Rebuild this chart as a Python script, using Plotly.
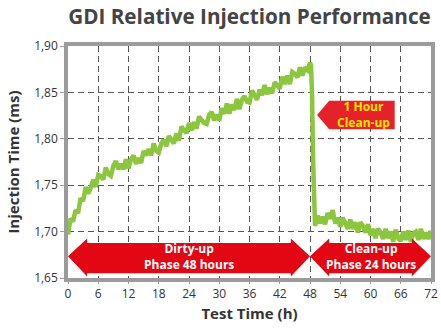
import plotly.graph_objects as go

# ---- data ----
hours = [0.0, 0.5, 1.0, 1.5, 2.0, 2.5, 3.0, 3.5, 4.0, 4.5, 5.0, 5.5, 6.0, 6.5, 7.0, 7.5, 8.0, 8.5, 9.0, 9.5,
         10.0, 10.5, 11.0, 11.5, 12.0, 12.5, 13.0, 13.5, 14.0, 14.5, 15.0, 15.5, 16.0, 16.5, 17.0, 17.5,
         18.0, 18.5, 19.0, 19.5, 20.0, 20.5, 21.0, 21.5, 22.0, 22.5, 23.0, 23.5, 24.0, 24.5, 25.0, 25.5,
         26.0, 26.5, 27.0, 27.5, 28.0, 28.5, 29.0, 29.5, 30.0, 30.5, 31.0, 31.5, 32.0, 32.5, 33.0, 33.5,
         34.0, 34.5, 35.0, 35.5, 36.0, 36.5, 37.0, 37.5, 38.0, 38.5, 39.0, 39.5, 40.0, 40.5, 41.0, 41.5,
         42.0, 42.5, 43.0, 43.5, 44.0, 44.5, 45.0, 45.5, 46.0, 46.5, 47.0, 47.5, 48.0, 48.2, 48.4, 48.6,
         48.8, 49.0, 49.5, 50.0, 50.5, 51.0, 51.5, 52.0, 52.5, 53.0, 53.5, 54.0, 54.5, 55.0, 55.5, 56.0,
         56.5, 57.0, 57.5, 58.0, 58.5, 59.0, 59.5, 60.0, 60.5, 61.0, 61.5, 62.0, 62.5, 63.0, 63.5, 64.0,
         64.5, 65.0, 65.5, 66.0, 66.5, 67.0, 67.5, 68.0, 68.5, 69.0, 69.5, 70.0, 70.5, 71.0, 71.5, 72.0]
injection_ms = [1.697, 1.714, 1.711, 1.723, 1.720, 1.736, 1.733, 1.748, 1.741, 1.747, 1.756, 1.748, 1.761, 1.760,
                1.756, 1.769, 1.762, 1.760, 1.771, 1.776, 1.767, 1.773, 1.767, 1.778, 1.768, 1.778, 1.782, 1.773,
                1.779, 1.774, 1.787, 1.782, 1.789, 1.782, 1.795, 1.787, 1.785, 1.795, 1.799, 1.792, 1.803, 1.798,
                1.795, 1.806, 1.798, 1.813, 1.809, 1.806, 1.817, 1.809, 1.818, 1.811, 1.824, 1.821, 1.817, 1.816,
                1.826, 1.829, 1.820, 1.826, 1.820, 1.833, 1.827, 1.838, 1.827, 1.837, 1.831, 1.843, 1.832, 1.842,
                1.846, 1.840, 1.839, 1.852, 1.848, 1.842, 1.853, 1.847, 1.858, 1.848, 1.855, 1.849, 1.861, 1.857,
                1.854, 1.867, 1.859, 1.868, 1.859, 1.872, 1.870, 1.866, 1.877, 1.868, 1.877, 1.874, 1.882, 1.879,
                1.850, 1.780, 1.712,
                1.706, 1.717, 1.709, 1.716, 1.708, 1.720, 1.714, 1.723, 1.709, 1.715, 1.705, 1.715, 1.708, 1.703,
                1.713, 1.703, 1.710, 1.699, 1.710, 1.706, 1.699, 1.708, 1.696, 1.703, 1.693, 1.703, 1.699, 1.692,
                1.703, 1.693, 1.700, 1.689, 1.702, 1.693, 1.690, 1.700, 1.691, 1.701, 1.689, 1.698, 1.700, 1.691,
                1.703, 1.692, 1.699, 1.692, 1.701]

x_ticks = [0, 6, 12, 18, 24, 30, 36, 42, 48, 54, 60, 66, 72]
y_ticks = [1.65, 1.70, 1.75, 1.80, 1.85, 1.90]
phase_bounds = [0, 48, 72]
phase_labels = ["<b>Dirty-up</b><br><b>Phase 48 hours</b>", "<b>Clean-up</b><br><b>Phase 24 hours</b>"]
callout_text = "<b>1 Hour</b><br><b>Clean-up</b>"

# ---- style ----
GREEN = "#8CC63F"
RED = "#E30613"
CALLOUT_RED = "#E52229"
GRID = "#555555"
FRAME = "#9B9B9B"
FONT = "Open Sans"

fig = go.Figure()
fig.add_trace(go.Scatter(x=hours, y=injection_ms, mode="lines",
                         line=dict(color=GREEN, width=4.5), showlegend=False, hoverinfo="skip"))

# phase arrows
head_len = 3.8
y_mid, body_top, body_bot, head_top, head_bot = 1.6734, 1.6878, 1.6550, 1.6925, 1.6515
shapes = []
annotations = []
for i, label in enumerate(phase_labels):
    a, b = phase_bounds[i], phase_bounds[i + 1]
    p = (f"M {a},{y_mid} L {a+head_len},{head_top} L {a+head_len},{body_top} "
         f"L {b-head_len},{body_top} L {b-head_len},{head_top} L {b},{y_mid} "
         f"L {b-head_len},{head_bot} L {b-head_len},{body_bot} L {a+head_len},{body_bot} "
         f"L {a+head_len},{head_bot} Z")
    shapes.append(dict(type="path", path=p, xref="x", yref="y", fillcolor=RED,
                       line=dict(width=0), layer="above"))
    annotations.append(dict(x=(a + b) / 2, y=y_mid, xref="x", yref="y", text=label,
                            showarrow=False, font=dict(family=FONT, size=12, color="white"),
                            align="center"))

# callout
tip_x, base_x, right_x = 49.4, 51.8, 64.8
c_top, c_bot = 1.8411, 1.8103
c_mid = (c_top + c_bot) / 2
shapes.append(dict(type="path",
                   path=f"M {tip_x},{c_mid} L {base_x},{c_top} L {right_x},{c_top} L {right_x},{c_bot} L {base_x},{c_bot} Z",
                   xref="x", yref="y", fillcolor=CALLOUT_RED, line=dict(width=0), layer="above"))
annotations.append(dict(x=(base_x + right_x) / 2 + 0.3, y=c_mid, xref="x", yref="y", text=callout_text,
                        showarrow=False, font=dict(family=FONT, size=12, color="#FFE500"), align="center"))

fig.update_layout(
    width=441, height=328,
    margin=dict(l=68, r=10, t=46, b=50),
    paper_bgcolor="white", plot_bgcolor="white",
    separators=",.",
    title=dict(text="<b>GDI Relative Injection Performance</b>", x=(68 + 431) / 2 / 441, xanchor="center",
               y=1 - 17 / 328, yanchor="middle", font=dict(family=FONT, size=20.7, color="#444444")),
    shapes=shapes, annotations=annotations,
    xaxis=dict(range=[0, 72], tickvals=x_ticks, showgrid=True, gridcolor=GRID, gridwidth=1,
               griddash="6px,4px", zeroline=False, showline=True, linecolor=FRAME, linewidth=3.5,
               mirror=True, ticks="outside", ticklen=2, tickcolor=FRAME, automargin=False,
               tickfont=dict(family=FONT, size=12, color="#333333"),
               title=dict(text="<b>Test Time (h)</b>", font=dict(family=FONT, size=15, color="#333333"),
                          standoff=8)),
    yaxis=dict(range=[1.65, 1.90], tickvals=y_ticks, tickformat=".2f", showgrid=True, gridcolor=GRID,
               gridwidth=1, griddash="6px,4px", zeroline=False, showline=True, linecolor=FRAME,
               linewidth=3.5, mirror=True, ticks="outside", ticklen=4, tickcolor=FRAME, automargin=False,
               tickfont=dict(family=FONT, size=12, color="#333333"),
               title=dict(text="<b>Injection Time (ms)</b>", font=dict(family=FONT, size=15, color="#333333"),
                          standoff=12)),
)

fig.write_html("out.html")
